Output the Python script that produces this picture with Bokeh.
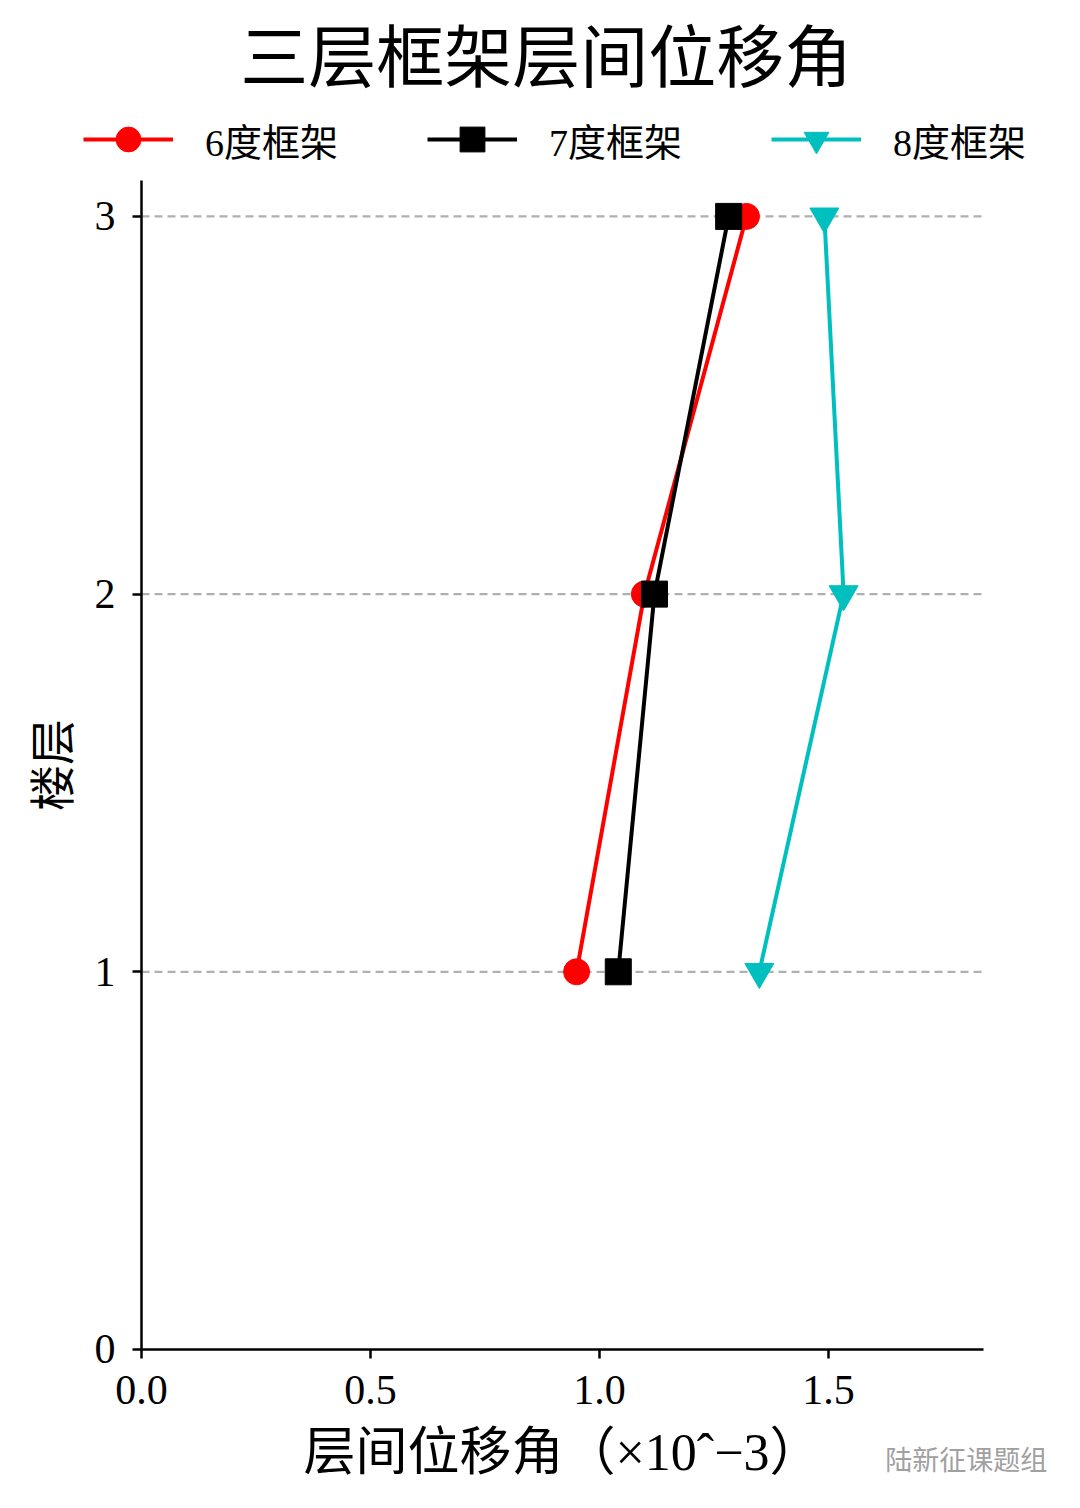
from bokeh.plotting import figure
from bokeh.models import Range1d, FixedTicker, Legend, LegendItem, Label
from bokeh.embed import file_html
from bokeh.resources import INLINE

floors = [1, 2, 3]
drift_6 = [0.950, 1.098, 1.321]
drift_7 = [1.041, 1.120, 1.282]
drift_8 = [1.349, 1.533, 1.491]
series_names = ["6度框架", "7度框架", "8度框架"]
x_ticks = [0.0, 0.5, 1.0, 1.5]
y_ticks = [0, 1, 2, 3]

X_MAX = 1.838   # right end of the x axis
Y_MAX = 3.095   # top end of the y axis

FONT = "'Liberation Serif', 'Times New Roman', 'Noto Sans CJK SC'"

W, H = 1072, 1500
p = figure(width=W, height=H, output_backend="svg", toolbar_location=None,
           x_range=Range1d(-0.3079, 2.0328), y_range=Range1d(-0.3998, 3.5716),
           min_border_left=0, min_border_right=0, min_border_top=0, min_border_bottom=0)
p.outline_line_color = None
p.background_fill_color = "white"
p.border_fill_color = "white"
p.xgrid.visible = False
p.ygrid.visible = False

# dashed horizontal grid lines, limited to the axes box
p.segment(x0=0, x1=X_MAX, y0=y_ticks[1:], y1=y_ticks[1:],
          line_color="#b0b0b0", line_dash="8 5", line_width=2.2)

for ax in (p.xaxis[0], p.yaxis[0]):
    ax.fixed_location = 0
    ax.axis_line_width = 2.5
    ax.axis_line_color = "black"
    ax.major_tick_line_width = 2.5
    ax.major_tick_out = 9
    ax.major_tick_in = 0
    ax.minor_tick_line_color = None
    ax.major_label_text_font = FONT
    ax.major_label_text_font_size = "42px"
    ax.major_label_text_color = "black"
    ax.axis_label_text_font = FONT
    ax.axis_label_text_font_style = "normal"
    ax.axis_label_text_color = "black"

p.xaxis.bounds = (0, X_MAX)
p.yaxis.bounds = (0, Y_MAX)
p.xaxis.ticker = FixedTicker(ticks=x_ticks)
p.xaxis.major_label_overrides = {t: f"{t:.1f}" for t in x_ticks}
p.yaxis.ticker = FixedTicker(ticks=y_ticks)
p.xaxis.axis_label = "层间位移角（×10ˆ−3）"
p.yaxis.axis_label = "楼层"
p.xaxis.axis_label_text_font_size = "52px"
p.yaxis.axis_label_text_font_size = "46px"
p.xaxis.axis_label_standoff = 16
p.yaxis.axis_label_standoff = 13
p.xaxis.major_label_standoff = 18
p.yaxis.major_label_standoff = 17

l6 = p.line(drift_6, floors, line_color="#ff0000", line_width=4)
s6 = p.scatter(drift_6, floors, marker="circle", size=26, fill_color="#ff0000", line_color="#ff0000")
l7 = p.line(drift_7, floors, line_color="black", line_width=4)
s7 = p.scatter(drift_7, floors, marker="square", size=26, fill_color="black", line_color="black")
l8 = p.line(drift_8, floors, line_color="#00bfbf", line_width=4)
s8 = p.scatter(drift_8, floors, marker="inverted_triangle", size=29, fill_color="#00bfbf", line_color="#00bfbf")

legend = Legend(items=[LegendItem(label=series_names[0], renderers=[l6, s6]),
                       LegendItem(label=series_names[1], renderers=[l7, s7]),
                       LegendItem(label=series_names[2], renderers=[l8, s8])],
                orientation="horizontal", location=(83, H - 170),
                glyph_width=90, glyph_height=62, label_standoff=32, spacing=89,
                padding=0, margin=0, border_line_color=None, background_fill_alpha=0,
                label_text_font=FONT, label_text_font_size="38px", label_text_color="black",
                label_height=62)
p.add_layout(legend, "center")

title = Label(x=0.884, y=3.418, text="三层框架层间位移角", text_font=FONT,
              text_font_size="68px", text_align="center", text_baseline="middle", text_color="black")
p.add_layout(title)

wm = Label(x=1.624, y=-0.294, text="陆新征课题组", text_font=FONT,
           text_font_size="27px", text_align="left", text_baseline="middle", text_color="#a0a0a0")
p.add_layout(wm)

open("out.html", "w").write(file_html(p, INLINE))
